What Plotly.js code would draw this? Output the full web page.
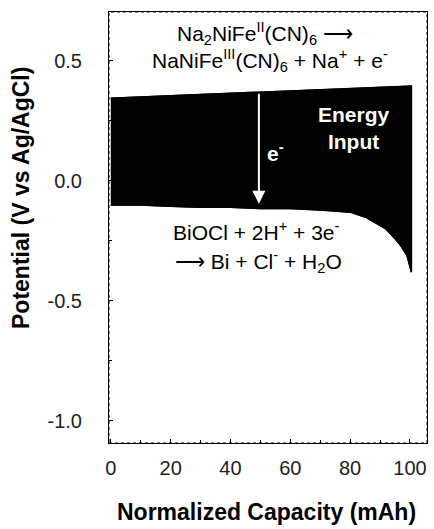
<!DOCTYPE html>
<html>
<head>
<meta charset="utf-8">
<script src="https://cdn.plot.ly/plotly-3.0.1.min.js"></script>
<style>html,body{margin:0;padding:0;background:#fff;}#chart{width:434px;height:529px;}</style>
</head>
<body>
<div id="chart"></div>
<script>
// Cathode (upper) curve
const capUpper = [0, 10, 20, 30, 40, 50, 60, 70, 80, 90, 100.5];
const vUpper   = [0.345, 0.35, 0.355, 0.36, 0.365, 0.37, 0.375, 0.38, 0.385, 0.39, 0.395];
// Anode (lower) curve
const capLower = [0, 10, 20, 30, 40, 50, 60, 70, 75, 80, 85, 88, 92, 95, 97, 99, 100.5];
const vLower   = [-0.10, -0.10, -0.105, -0.11, -0.11, -0.115, -0.115, -0.12, -0.125, -0.13, -0.15, -0.17, -0.20, -0.24, -0.27, -0.31, -0.38];
// Tick labels
const xTicks = [0, 20, 40, 60, 80, 100];
const yTicks = [0.5, 0.0, -0.5, -1.0];
const yTickText = ['0.5', '0.0', '-0.5', '-1.0'];

const polyX = capUpper.concat(capLower.slice().reverse());
const polyY = vUpper.concat(vLower.slice().reverse());

const font = 'Liberation Sans, Arial, sans-serif';

// plot area in pixels: left 109, right 427, top 12, bottom 443
const PL = 109, PW = 318, PT = 12, PH = 431;
const px = v => (v - PL) / PW;
const py = v => (PT + PH - v) / PH;

const traces = [
  {x: polyX, y: polyY, type: 'scatter', mode: 'lines', fill: 'toself', fillcolor: '#000',
   line: {color: '#000', width: 1.5}, hoverinfo: 'skip', showlegend: false},
  {x: capLower, y: vLower, type: 'scatter', mode: 'lines', line: {color: '#000', width: 1.5}, showlegend: false},
  {x: capUpper, y: vUpper, type: 'scatter', mode: 'lines', line: {color: '#000', width: 1.5}, showlegend: false}
];

const layout = {
  width: 434, height: 529,
  margin: {l: PL, r: 434 - PL - PW, t: PT, b: 529 - PT - PH},
  paper_bgcolor: '#fff', plot_bgcolor: '#fff',
  showlegend: false,
  font: {family: font, color: '#000', size: 20},
  xaxis: {
    range: [-0.6, 105.7], tickvals: xTicks, ticks: 'inside', ticklen: 4, tickcolor: '#000',
    minor: {dtick: 10, ticks: 'inside', ticklen: 3, tickcolor: '#000'},
    showline: true, linecolor: '#000', linewidth: 1, mirror: true, showgrid: false, zeroline: false,
    tickfont: {family: font, size: 20, color: '#222'}, ticklabelstandoff: 7
  },
  yaxis: {
    range: [-1.092, 0.704], tickvals: yTicks, ticktext: yTickText, ticks: 'inside', ticklen: 4, tickcolor: '#000',
    minor: {dtick: 0.25, ticks: 'inside', ticklen: 3, tickcolor: '#000'},
    showline: true, linecolor: '#000', linewidth: 1, mirror: true, showgrid: false, zeroline: false,
    tickfont: {family: font, size: 20, color: '#222'}, ticklabelstandoff: 22
  },
  shapes: [
    {type: 'rect', xref: 'paper', yref: 'paper', x0: 0, x1: 1, y0: 0, y1: 1,
     line: {color: '#000', width: 1, dash: 'dot'}, layer: 'above'}
  ],
  annotations: [
    {xref: 'paper', yref: 'paper', x: px(266), y: py(512), xanchor: 'center', yanchor: 'middle',
     text: '<b>Normalized Capacity (mAh)</b>', showarrow: false, font: {family: font, size: 23}},
    {xref: 'paper', yref: 'paper', x: px(21), y: py(198), xanchor: 'center', yanchor: 'middle', textangle: -90,
     text: '<b>Potential (V vs Ag/AgCl)</b>', showarrow: false, font: {family: font, size: 23}},
    {xref: 'paper', yref: 'paper', x: px(265), y: py(33), xanchor: 'center', yanchor: 'middle',
     text: 'Na<sub>2</sub>NiFe<sup>II</sup>(CN)<sub>6</sub> ⟶', showarrow: false, font: {family: font, size: 21}},
    {xref: 'paper', yref: 'paper', x: px(270), y: py(61), xanchor: 'center', yanchor: 'middle',
     text: 'NaNiFe<sup>III</sup>(CN)<sub>6</sub> + Na<sup>+</sup> + e<sup>-</sup>', showarrow: false, font: {family: font, size: 21}},
    {xref: 'paper', yref: 'paper', x: px(256), y: py(231), xanchor: 'center', yanchor: 'middle',
     text: 'BiOCl + 2H<sup>+</sup> + 3e<sup>-</sup>', showarrow: false, font: {family: font, size: 21}},
    {xref: 'paper', yref: 'paper', x: px(258), y: py(261), xanchor: 'center', yanchor: 'middle',
     text: '⟶ Bi + Cl<sup>-</sup> + H<sub>2</sub>O', showarrow: false, font: {family: font, size: 21}},
    {xref: 'paper', yref: 'paper', x: px(354), y: py(128), xanchor: 'center', yanchor: 'middle',
     text: '<b>Energy<br>Input</b>', showarrow: false, font: {family: font, size: 21, color: '#fff'}},
    {xref: 'paper', yref: 'paper', x: px(275), y: py(152), xanchor: 'center', yanchor: 'middle',
     text: '<b>e<sup>-</sup></b>', showarrow: false, font: {family: font, size: 21, color: '#fff'}},
    {xref: 'x', yref: 'y', x: 49.5, y: -0.095, axref: 'x', ayref: 'y', ax: 49.5, ay: 0.37,
     text: '', showarrow: true, arrowhead: 2, arrowsize: 1.3, arrowwidth: 2, arrowcolor: '#fff'}
  ]
};

Plotly.newPlot('chart', traces, layout, {displayModeBar: false, staticPlot: true});
</script>
</body>
</html>
